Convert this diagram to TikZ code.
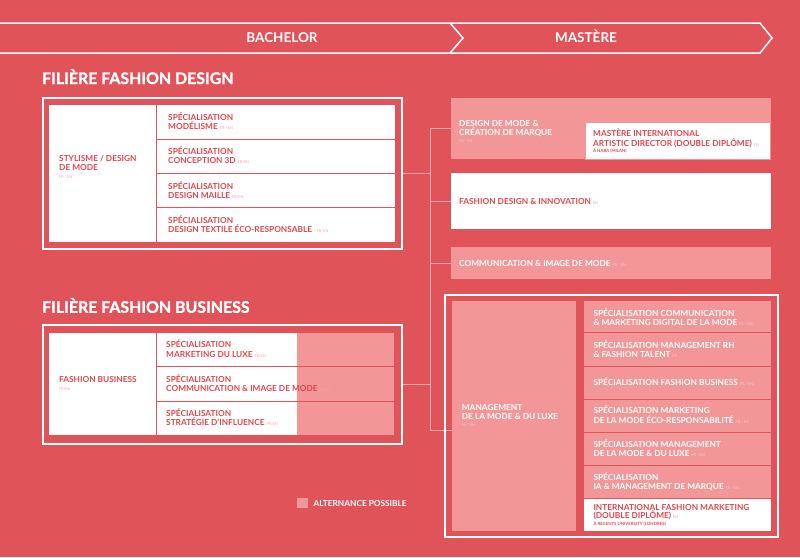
\documentclass[tikz,border=0pt]{standalone}
\usepackage{fontspec}
\setmainfont{Lato}
\newfontfamily\heavyfont[BoldFeatures={FakeBold=1.2}]{Lato}
\usetikzlibrary{fit}
\definecolor{bg}{HTML}{DF5359}
\definecolor{tred}{HTML}{E0474F}
\definecolor{pk}{HTML}{F29698}
\definecolor{cn}{HTML}{F5A9AB}
\definecolor{tagw}{HTML}{F2A2A5}
\definecolor{tagp}{HTML}{FAC8C9}
\newcommand\tg[1]{\hspace{2pt}{\fontsize{3.8}{4}\selectfont\mdseries\color{tagw}#1}}
\newcommand\tgp[1]{\hspace{2pt}{\fontsize{3.8}{4}\selectfont\mdseries\color{tagp}#1}}
\tikzset{
  box/.style={inner sep=0pt, outer sep=0pt, draw=none},
  wbox/.style={box, fill=white},
  pbox/.style={box, fill=pk},
  frame/.style={draw=white, line width=2pt},
  conn/.style={draw=cn, line width=0.9pt},
  banline/.style={draw=white, line width=1.5pt, line join=miter},
  t/.style={anchor=base west, inner sep=0pt, font=\fontsize{8.3}{9}\selectfont\bfseries, text=tred},
  tw/.style={t, text=white},
  tagl/.style={anchor=base west, inner sep=0pt, font=\fontsize{3.8}{4}\selectfont, text=#1},
  small/.style={anchor=base west, inner sep=0pt, font=\fontsize{4.3}{5}\selectfont\bfseries, text=tred},
  ban/.style={anchor=base, inner sep=0pt, font=\fontsize{13.5}{15}\selectfont\bfseries, text=white},
  ttl/.style={anchor=base west, inner sep=0pt, font=\heavyfont\fontsize{15.9}{17}\selectfont\bfseries, text=white},
}
\begin{document}
\begin{tikzpicture}[x=1pt, y=-1pt]
\fill[bg] (0,0) rectangle (800,557);
\useasboundingbox (0,0) rectangle (800,557);

% banner
\draw[banline] (0,23) -- (760,23) -- (772,38) -- (760,53) -- (0,53);
\draw[banline] (450,23) -- (463,38) -- (450,53);
\node[ban] (bach) at (282,42.8) {BACHELOR};
\node[ban] (mast) at (586,42.8) {MASTÈRE};

% titles
\node[ttl] (tfd) at (42,84) {FILIÈRE FASHION DESIGN};
\node[ttl] (tfb) at (42,312.8) {FILIÈRE FASHION BUSINESS};

% frames (as nodes)
\node[box, fit={(43.3,98.3) (401.7,249)}] (fdf) {};
\node[box, fit={(43.3,325.3) (401.7,443.7)}] (fbf) {};
\node[box, fit={(445,295) (777.7,536.8)}] (mgf) {};

% right boxes
\node[pbox, fit={(450.7,98.3) (770.7,159.3)}] (dm) {};
\node[wbox, fit={(450.7,173.3) (771,228.7)}] (fdi) {};
\node[pbox, fit={(450.7,246.7) (771,279.3)}] (cim) {};
\node[pbox, fit={(451.7,301) (576,530.7)}] (mg) {};

% connectors
\coordinate (spB) at (430,430);
\draw[conn] (dm.west) -| (spB) -- (spB -| mg.west);
\draw[conn] (fdi.west) -- (fdi.west -| spB);
\draw[conn] (cim.west) -- (cim.west -| spB);
\draw[conn] (fdf.east) -- (fdf.east -| spB);
\draw[conn] (fbf.east) -- (fbf.east -| spB);

% frames
\draw[frame] (fdf.north west) rectangle (fdf.south east);
\draw[frame] (fbf.north west) rectangle (fbf.south east);
\draw[frame] (mgf.north west) rectangle (mgf.south east);

% fashion design block
\node[wbox, fit={(49.3,105) (155.5,241.7)}] (sty) {};
\node[wbox, fit={(156.5,105) (394.7,138.6)}] (fd1) {};
\node[wbox, fit={(156.5,139.6) (394.7,173.2)}] (fd2) {};
\node[wbox, fit={(156.5,174.2) (394.7,207.4)}] (fd3) {};
\node[wbox, fit={(156.5,208.4) (394.7,241.7)}] (fd4) {};

\node[t] (sty1) at (59,161.8) {STYLISME / DESIGN};
\node[t] (sty2) at (59,170.8) {DE MODE};
\node[tagl=tagw] (sty3) at (59,178) {FR / EN};

\node[t] (fd1a) at (168,120.5) {SPÉCIALISATION};
\node[t] (fd1b) at (168,129.2) {MODÉLISME\tg{FR / EN}};
\node[t] (fd2a) at (168,154.8) {SPÉCIALISATION};
\node[t] (fd2b) at (168,163.5) {CONCEPTION 3D\tg{FR/EN}};
\node[t] (fd3a) at (168,189.2) {SPÉCIALISATION};
\node[t] (fd3b) at (168,198) {DESIGN MAILLE\tg{FR/EN}};
\node[t] (fd4a) at (168,223.5) {SPÉCIALISATION};
\node[t] (fd4b) at (168,232.2) {DESIGN TEXTILE ÉCO-RESPONSABLE\hspace{3pt}\tg{FR/EN}};

% fashion business block
\node[wbox, fit={(49.3,332.7) (155.5,435)}] (fbs) {};
\node[wbox, fit={(156.5,332.7) (394,366.3)}] (fb1) {};
\node[wbox, fit={(156.5,367.3) (394,400.6)}] (fb2) {};
\node[wbox, fit={(156.5,401.6) (394,435)}] (fb3) {};
\node[pbox, fit={(296.7,332.7) (394,366.3)}] (fb1p) {};
\node[pbox, fit={(296.7,367.3) (394,400.6)}] (fb2p) {};
\node[pbox, fit={(296.7,401.6) (394,435)}] (fb3p) {};

\node[t] (fbs1) at (59,382.8) {FASHION BUSINESS};
\node[tagl=tagw] (fbs2) at (59,390) {FR/EN};
\node[t] (fb1a) at (166,347.8) {SPÉCIALISATION};
\node[t] (fb1b) at (166,357.2) {MARKETING DU LUXE\tg{FR/EN}};
\node[t] (fb2a) at (166,382.2) {SPÉCIALISATION};
\node[t] (fb2b) at (166,391.2) {COMMUNICATION \& IMAGE DE MODE\tg{FR/EN}};
\node[t] (fb3a) at (166,416.2) {SPÉCIALISATION};
\node[t] (fb3b) at (166,425.5) {STRATÉGIE D’INFLUENCE\tg{FR/EN}};

% right top texts
\node[wbox, draw=pk, line width=0.6pt, fit={(585,122.3) (770.7,159.3)}] (art) {};
\node[tw] (dm1) at (459,126.7) {DESIGN DE MODE \&};
\node[tw] (dm2) at (459,135.5) {CRÉATION DE MARQUE};
\node[tagl=tagp] (dm3) at (459,142.5) {FR / EN};
\node[t] (art1) at (593,136.3) {MASTÈRE INTERNATIONAL};
\node[t] (art2) at (593,146.5) {ARTISTIC DIRECTOR (DOUBLE DIPLÔME)\tg{EN}};
\node[small] (art3) at (593,152.3) {À NABA (MILAN)};
\node[t] (fdit) at (459,204) {FASHION DESIGN \& INNOVATION\tg{EN}};
\node[tw] (cimt) at (459,266.5) {COMMUNICATION \& IMAGE DE MODE\tgp{FR / EN}};

% management block
\node[pbox, fit={(584.3,301) (771,332.3)}] (m1) {};
\node[pbox, fit={(584.3,333.3) (771,365.6)}] (m2) {};
\node[pbox, fit={(584.3,366.6) (771,399)}] (m3) {};
\node[pbox, fit={(584.3,400) (771,432)}] (m4) {};
\node[pbox, fit={(584.3,433) (771,465)}] (m5) {};
\node[pbox, fit={(584.3,466) (771,498)}] (m6) {};
\node[wbox, fit={(584.3,499) (771,530.7)}] (m7) {};

\node[tw] (mg1) at (461.7,410.8) {MANAGEMENT};
\node[tw] (mg2) at (461.7,419) {DE LA MODE \& DU LUXE};
\node[tagl=tagp] (mg3) at (461.7,426.5) {FR / EN};

\node[tw] (m1a) at (593.3,316.3) {SPÉCIALISATION COMMUNICATION};
\node[tw] (m1b) at (593.3,325.3) {\& MARKETING DIGITAL DE LA MODE\tgp{FR / EN}};
\node[tw] (m2a) at (593.3,348.5) {SPÉCIALISATION MANAGEMENT RH};
\node[tw] (m2b) at (593.3,357.2) {\& FASHION TALENT\tgp{FR}};
\node[tw] (m3a) at (593.3,385.3) {SPÉCIALISATION FASHION BUSINESS\tgp{FR / EN}};
\node[tw] (m4a) at (593.3,413.5) {SPÉCIALISATION MARKETING};
\node[tw] (m4b) at (593.3,423.5) {DE LA MODE ÉCO-RESPONSABILITÉ\tgp{FR / EN}};
\node[tw] (m5a) at (593.3,447.5) {SPÉCIALISATION MANAGEMENT};
\node[tw] (m5b) at (593.3,456.5) {DE LA MODE \& DU LUXE\tgp{FR / EN}};
\node[tw] (m6a) at (593.3,480.2) {SPÉCIALISATION};
\node[tw] (m6b) at (593.3,489.2) {IA \& MANAGEMENT DE MARQUE\tgp{FR / EN}};
\node[t] (m7a) at (593.3,510.2) {INTERNATIONAL FASHION MARKETING};
\node[t] (m7b) at (593.3,518.8) {(DOUBLE DIPLÔME)\tg{EN}};
\node[small] (m7c) at (593.3,525.3) {À REGENTS UNIVERSITY (LONDRES)};

% legend
\node[pbox, fit={(297.3,498) (307.7,507.7)}] (leg) {};
\node[tw] (legt) at (313.3,506.3) {ALTERNANCE POSSIBLE};
\end{tikzpicture}
\end{document}
